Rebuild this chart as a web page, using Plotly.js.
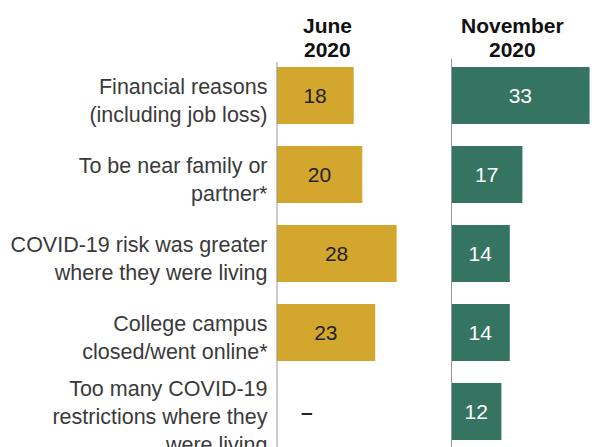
<!DOCTYPE html>
<html>
<head>
<meta charset="utf-8">
<script src="https://cdn.plot.ly/plotly-3.0.1.min.js"></script>
<style>html,body{margin:0;padding:0;background:#fff;}#chart{width:592px;height:447px;}</style>
</head>
<body>
<div id="chart"></div>
<script>
var categories = [
  "Financial reasons<br>(including job loss)",
  "To be near family or<br>partner*",
  "COVID-19 risk was greater<br>where they were living",
  "College campus<br>closed/went online*",
  "Too many COVID-19<br>restrictions where they<br>were living"
];
var juneValues = [18, 20, 28, 23, null];
var novemberValues = [33, 17, 14, 14, 12];
var juneHeader = ["June", "2020"];
var novemberHeader = ["November", "2020"];
var missingMark = "–";

var FONT = "Arial, 'Liberation Sans', sans-serif";
var W = 592, H = 447, T = 56;
var PH = H - T;
function py(p) { return (H - p) / PH; }

function labels(vals) { return vals.map(function (v) { return v === null ? "" : String(v); }); }

var traces = [
  {
    type: "bar", orientation: "h", y: categories, x: juneValues,
    xaxis: "x", yaxis: "y",
    marker: { color: "#D3A72D" },
    text: labels(juneValues), textposition: "inside", insidetextanchor: "middle",
    constraintext: "none",
    textfont: { family: FONT, size: 21, color: "#222222" },
    hoverinfo: "none"
  },
  {
    type: "bar", orientation: "h", y: categories, x: novemberValues,
    xaxis: "x2", yaxis: "y2",
    marker: { color: "#367462" },
    text: labels(novemberValues), textposition: "inside", insidetextanchor: "middle",
    constraintext: "none",
    textfont: { family: FONT, size: 21, color: "#ffffff" },
    hoverinfo: "none"
  }
];

var yCommon = {
  type: "category", range: [4.45, -0.5], autorange: false,
  showgrid: false, zeroline: false, showline: false, ticks: ""
};

function hdr(text, x, y) {
  return { xref: "paper", yref: "paper", x: x / W, y: py(y), text: "<b>" + text + "</b>", showarrow: false, xanchor: "center", yanchor: "middle", font: { family: FONT, size: 21, color: "#111111" } };
}

var layout = {
  width: W, height: H,
  margin: { l: 0, r: 0, t: T, b: 0, pad: 0 },
  paper_bgcolor: "#ffffff", plot_bgcolor: "#ffffff",
  showlegend: false, bargap: 0.28,
  font: { family: FONT, size: 21, color: "#3a3a3a" },
  xaxis: { domain: [276.5 / W, 440 / W], range: [0, 163.5 / 4.29], showticklabels: false, showgrid: false, zeroline: false, showline: false, fixedrange: true },
  xaxis2: { domain: [451 / W, 1], range: [0, 141 / 4.2], showticklabels: false, showgrid: false, zeroline: false, showline: false, fixedrange: true },
  yaxis: Object.assign({}, yCommon, { anchor: "x", showticklabels: true, ticklabelstandoff: 8, ticklabelshift: -5, tickfont: { family: FONT, size: 21.5, color: "#3a3a3a" } }),
  yaxis2: Object.assign({}, yCommon, { anchor: "x2", showticklabels: false }),
  shapes: [
    { type: "line", xref: "x", yref: "paper", x0: 0, x1: 0, y0: 0, y1: py(62), line: { color: "#999999", width: 2 } },
    { type: "line", xref: "x2", yref: "paper", x0: 0, x1: 0, y0: 0, y1: py(59), line: { color: "#999999", width: 2 } }
  ],
  annotations: [
    hdr(juneHeader[0], 327, 25),
    hdr(juneHeader[1], 327, 50),
    hdr(novemberHeader[0], 512, 25),
    hdr(novemberHeader[1], 512, 50),
    { xref: "x", yref: "y", x: 7.2, y: categories[4], text: "<b>" + missingMark + "</b>", showarrow: false, xanchor: "center", yanchor: "middle", font: { family: FONT, size: 21, color: "#222222" } }
  ]
};

Plotly.newPlot("chart", traces, layout, { staticPlot: true, displayModeBar: false });
</script>
</body>
</html>
